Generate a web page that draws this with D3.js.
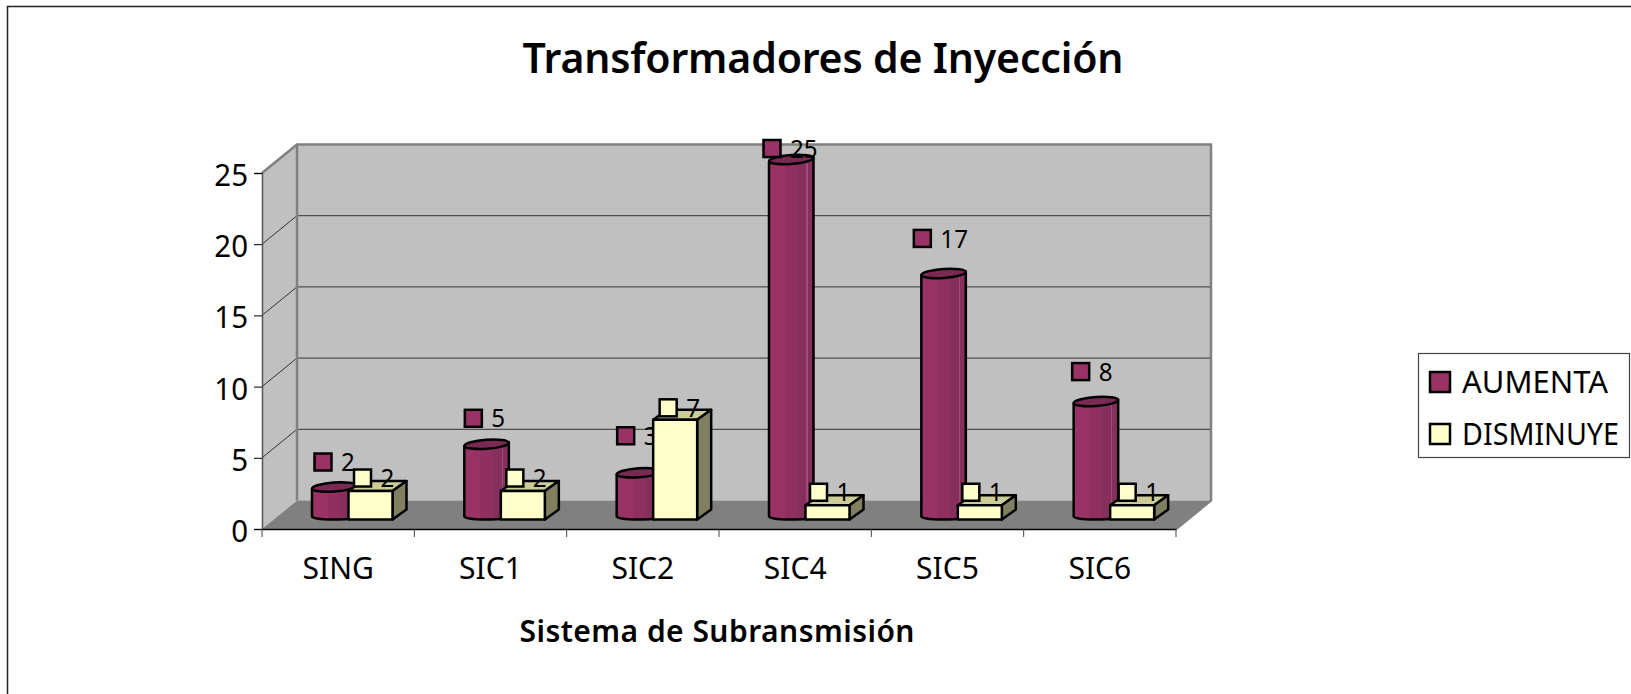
<!DOCTYPE html>
<html>
<head>
<meta charset="utf-8">
<script src="https://cdn.jsdelivr.net/npm/d3@7"></script>
<style>
    html, body { margin: 0; padding: 0; background: #fff; overflow: hidden; }
    text { font-family: "Noto Sans", "Liberation Sans", sans-serif; fill: #000; }
</style>
</head>
<body>
<div id="chart"></div>
<script>
// values
const categories = ["SING", "SIC1", "SIC2", "SIC4", "SIC5", "SIC6"];
const aumenta = [2, 5, 3, 25, 17, 8];
const disminuye = [2, 2, 7, 1, 1, 1];
const yTicks = [0, 5, 10, 15, 20, 25];

// the data labels sit wherever they were dragged to in the original, so nudges per bar
const aumentaNudge = [[11, -29], [9, -30], [9, -41], [3, -15], [1, -39], [7, -34]];
const disminuyeNudge = [[14, -13], [14, -13], [15, -12], [13, -13], [13, -13], [17, -13]];

const width = 1631, height = 694;
const margin = {left: 262, right: 1176, top: 173, bottom: 529};
const depth = {x: 35, y: -28.5};
const barDepth = {x: 14, y: -10};
const barBase = 9.5;   // bars stand this far behind the front axis

const colors = {
    wall: "#c0c0c0", floor: "#808080", edge: "#808080",
    cyl: "#993366", cylTop: "#7a2952",
    box: "#ffffcc", boxTop: "#cccc99", boxSide: "#808060"
};

const svg = d3.select("#chart").append("svg")
    .attr("width", width)
    .attr("height", height)
    .style("display", "block");

const x = d3.scaleBand().domain(categories).range([margin.left, margin.right]);
const y = d3.scaleLinear().domain([0, 25]).range([margin.bottom, margin.top]);

// the original font is narrower than anything installed, so squeeze the glyphs
function squeeze(sel, k) {
    sel.each(function() {
        d3.select(this)
            .attr("textLength", this.getComputedTextLength() * k)
            .attr("lengthAdjust", "spacingAndGlyphs");
    });
}

// outer frame, runs off the right and bottom of the picture
svg.append("rect")
    .attr("x", 7.5).attr("y", 6.5)
    .attr("width", width + 20).attr("height", height + 20)
    .attr("fill", "none").attr("stroke", "#222").attr("stroke-width", 1.5);

// 3D walls
const pts = a => a.map(p => p.join(",")).join(" ");
const x0 = margin.left, x1 = margin.right, yb = y(0), yt = y(25);

svg.append("polygon")
    .attr("points", pts([[x0 + depth.x, yt + depth.y], [x1 + depth.x, yt + depth.y], [x1 + depth.x, yb + depth.y], [x0 + depth.x, yb + depth.y]]))
    .attr("fill", colors.wall);
svg.append("polygon")
    .attr("points", pts([[x0, yt], [x0 + depth.x, yt + depth.y], [x0 + depth.x, yb + depth.y], [x0, yb]]))
    .attr("fill", colors.wall);
svg.append("polygon")
    .attr("points", pts([[x0, yb], [x0 + depth.x, yb + depth.y], [x1 + depth.x, yb + depth.y], [x1, yb]]))
    .attr("fill", colors.floor);

// gridlines run along the back wall and down the side wall
yTicks.filter(d => d > 0 && d < 25).forEach(d => {
    svg.append("polyline")
        .attr("points", pts([[x0, y(d)], [x0 + depth.x, y(d) + depth.y], [x1 + depth.x, y(d) + depth.y]]))
        .attr("fill", "none").attr("stroke", "#333").attr("stroke-width", 1);
});

// wall edges
svg.append("polyline")
    .attr("points", pts([[x0, yt], [x0 + depth.x, yt + depth.y], [x1 + depth.x, yt + depth.y], [x1 + depth.x, yb + depth.y], [x1, yb]]))
    .attr("fill", "none").attr("stroke", colors.edge).attr("stroke-width", 2.5);
svg.append("line")
    .attr("x1", x0 + depth.x).attr("x2", x0 + depth.x)
    .attr("y1", yt + depth.y).attr("y2", yb + depth.y)
    .attr("stroke", colors.edge).attr("stroke-width", 2.5);

// axes
const yAxis = d3.axisLeft(y).tickValues(yTicks).tickSize(8).tickPadding(6);
const gy = svg.append("g").attr("transform", "translate(" + x0 + ",0)").call(yAxis);
gy.select(".domain").attr("stroke", "#555").attr("stroke-width", 1.5);
gy.attr("font-family", null).attr("font-size", null);
gy.selectAll("text").attr("dy", "0.4em").style("font-size", "31px").call(squeeze, 0.95);

const xAxis = d3.axisBottom(x).tickSize(0);
const gx = svg.append("g").attr("transform", "translate(0," + yb + ")").call(xAxis);
gx.attr("font-family", null).attr("font-size", null);
gx.select(".domain").attr("stroke", "#000").attr("stroke-width", 1.5);
gx.selectAll("text")
    .attr("y", 50).attr("dy", 0)
    .style("font-size", "31px")
    .call(squeeze, 0.97);
// ticks sit on the band edges, not the centres
gx.selectAll(".edge-tick")
    .data(categories.map(c => x(c)).concat([x1]))
    .enter().append("line")
    .attr("x1", d => d).attr("x2", d => d)
    .attr("y1", 0).attr("y2", 8)
    .attr("stroke", "#444");

// stepped shading of the cylinders
const grad = svg.append("defs").append("linearGradient").attr("id", "cylShade");
[[0, "#993366"], [0.36, "#993366"], [0.36, "#8f3060"], [0.64, "#8f3060"], [0.64, "#85305c"],
 [0.84, "#85305c"], [0.84, "#a04a78"], [0.87, "#a04a78"], [0.87, "#85305c"], [1, "#85305c"]]
    .forEach(s => grad.append("stop").attr("offset", s[0]).attr("stop-color", s[1]));

const cylX = 50, cylW = 44.5, boxX = 86.5, boxW = 44;
const base = yb - barBase;
const barH = v => y(0) - y(v);

function drawCylinder(g, cx0, v) {
    const top = base - barH(v), rx = cylW / 2;
    g.append("path")
        .attr("d", "M" + cx0 + "," + (top - 2) + " L" + cx0 + "," + (base - 3) +
            " A" + rx + ",3 0 0 0 " + (cx0 + cylW) + "," + (base - 3) +
            " L" + (cx0 + cylW) + "," + (top - 6) + " Z")
        .attr("fill", "url(#cylShade)")
        .attr("stroke", "#000").attr("stroke-width", 2.5).attr("stroke-linejoin", "round");
    g.append("ellipse")
        .attr("cx", cx0 + rx).attr("cy", top - 4)
        .attr("rx", rx).attr("ry", 4.5)
        .attr("transform", "rotate(-4," + (cx0 + rx) + "," + (top - 4) + ")")
        .attr("fill", colors.cylTop)
        .attr("stroke", "#000").attr("stroke-width", 2.5);
}

function drawBox(g, bx0, v) {
    const top = base - barH(v), bx1 = bx0 + boxW;
    const dx = barDepth.x, dy = barDepth.y;
    g.selectAll(null)
        .data([
            {p: [[bx0, top], [bx0 + dx, top + dy], [bx1 + dx, top + dy], [bx1, top]], f: colors.boxTop},
            {p: [[bx1, top], [bx1 + dx, top + dy], [bx1 + dx, base + dy], [bx1, base]], f: colors.boxSide},
            {p: [[bx0, top], [bx1, top], [bx1, base], [bx0, base]], f: colors.box}
        ])
        .enter().append("polygon")
        .attr("points", d => pts(d.p))
        .attr("fill", d => d.f)
        .attr("stroke", "#000").attr("stroke-width", 2.5).attr("stroke-linejoin", "round");
}

function drawLabel(g, px, py, v, color) {
    g.append("rect")
        .attr("x", px - 8.5).attr("y", py - 8.5)
        .attr("width", 17).attr("height", 17)
        .attr("fill", color)
        .attr("stroke", "#000").attr("stroke-width", 2.5);
    g.append("text")
        .attr("x", px + 18).attr("y", py)
        .attr("dy", "0.36em")
        .style("font-size", "25.5px")
        .text(v)
        .call(squeeze, 0.95);
}

// per category: cylinder, its label, then box over it, then the box label
categories.forEach((c, i) => {
    const g = svg.append("g").attr("class", "cat");
    const cx0 = x(c) + cylX, bx0 = x(c) + boxX;
    drawCylinder(g, cx0, aumenta[i]);
    drawLabel(g, cx0 + aumentaNudge[i][0], base - barH(aumenta[i]) + aumentaNudge[i][1], aumenta[i], colors.cyl);
    drawBox(g, bx0, disminuye[i]);
    drawLabel(g, bx0 + disminuyeNudge[i][0], base - barH(disminuye[i]) + disminuyeNudge[i][1], disminuye[i], colors.box);
});

// titles
svg.append("text")
    .attr("x", 823).attr("y", 73)
    .attr("text-anchor", "middle")
    .attr("textLength", 601).attr("lengthAdjust", "spacing")
    .style("font-size", "41px").style("font-weight", "600")
    .text("Transformadores de Inyección");
svg.append("text")
    .attr("x", 717).attr("y", 642)
    .attr("text-anchor", "middle")
    .attr("textLength", 395).attr("lengthAdjust", "spacing")
    .style("font-size", "30px").style("font-weight", "600")
    .text("Sistema de Subransmisión");

// legend
const legendNames = ["AUMENTA", "DISMINUYE"];
const legendColors = [colors.cyl, colors.box];
const legendWidths = [146, 157];
const legendY = d3.scalePoint().domain(legendNames).range([382, 434]);

svg.append("rect")
    .attr("x", 1418.5).attr("y", 353.5)
    .attr("width", 211).attr("height", 104)
    .attr("fill", "#fff").attr("stroke", "#444").attr("stroke-width", 1.2);

legendNames.forEach((name, i) => {
    svg.append("rect")
        .attr("x", 1430).attr("y", legendY(name) - 10)
        .attr("width", 20).attr("height", 20)
        .attr("fill", legendColors[i])
        .attr("stroke", "#000").attr("stroke-width", 2.5);
    svg.append("text")
        .attr("x", 1462).attr("y", legendY(name))
        .attr("dy", "0.36em")
        .attr("textLength", legendWidths[i]).attr("lengthAdjust", "spacingAndGlyphs")
        .style("font-size", "31px")
        .text(name);
});
</script>
</body>
</html>
